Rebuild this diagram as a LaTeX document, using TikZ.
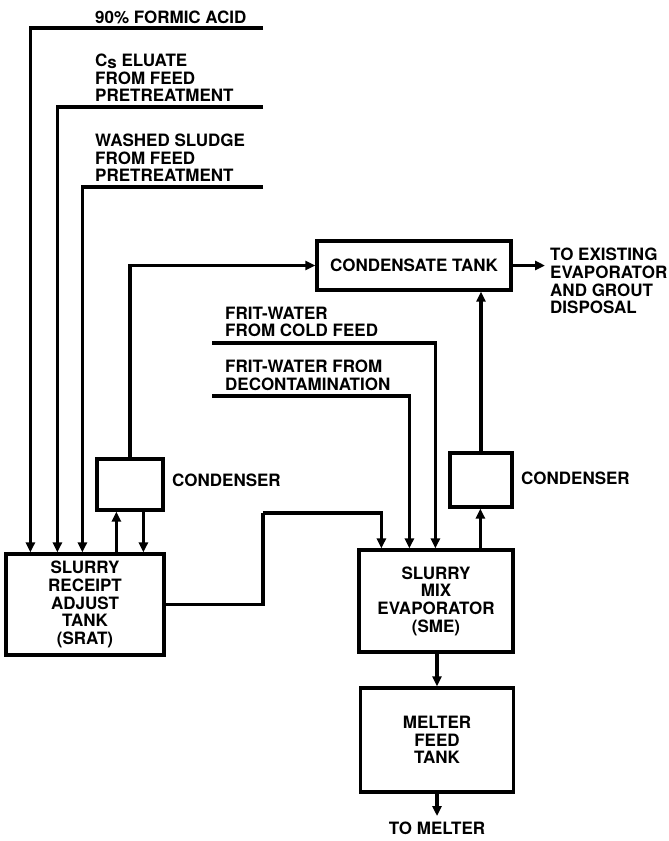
\documentclass[tikz,border=0pt]{standalone}
\usepackage{fontspec}
\usetikzlibrary{arrows.meta,calc}
\newfontfamily\herosfam{TeX Gyre Heros}
\newcommand\diagfont{\herosfam\bfseries\fontsize{17}{17.6}\selectfont}
\tikzset{
  box/.style={draw, line width=3.2pt, inner sep=0pt, align=center, font=\diagfont},
  lbl/.style={inner sep=0pt, align=left, font=\diagfont, anchor=west},
  flow/.style={line width=3.2pt, -{Triangle[length=10pt,width=9pt]}},
  pipe/.style={line width=3.2pt},
}
\begin{document}
\begin{tikzpicture}[x=1pt,y=-1pt]
\fill[white] (0,0) rectangle (669,841);
\useasboundingbox (0,0) rectangle (669,841);

% boxes
\node[box, minimum width=158pt, minimum height=101pt] (srat) at (85,604.5) {SLURRY\\RECEIPT\\ADJUST\\TANK\\(SRAT)};
\node[box, minimum width=154pt, minimum height=102pt] (sme) at (436,601) {SLURRY\\MIX\\EVAPORATOR\\(SME)};
\node[box, minimum width=153pt, minimum height=104pt] (mft) at (437,740) {MELTER\\FEED\\TANK};
\node[box, minimum width=194pt, minimum height=49pt] (ct) at (414,265.5) {CONDENSATE TANK};
\node[box, minimum width=66pt, minimum height=51pt] (condL) at (130,484.5) {};
\node[box, minimum width=62pt, minimum height=54pt] (condR) at (481,480) {};

% labels
\node[lbl] (lformic) at (95,17) {90\% FORMIC ACID};
\node[lbl] (lcs) at (95,78) {C\raisebox{-2pt}{s} ELUATE\\FROM FEED\\PRETREATMENT};
\node[lbl] (lws) at (95,158) {WASHED SLUDGE\\FROM FEED\\PRETREATMENT};
\node[lbl] (lfc) at (225,322) {FRIT-WATER\\FROM COLD FEED};
\node[lbl] (lfd) at (225,375) {FRIT-WATER FROM\\DECONTAMINATION};
\node[lbl] (lcondL) at (172,480) {CONDENSER};
\node[lbl] (lcondR) at (521,478) {CONDENSER};
\node[lbl] (lout) at (550,281) {TO EXISTING\\EVAPORATOR\\AND GROUT\\DISPOSAL};
\node[inner sep=0pt, font=\diagfont] (lmelter) at (437,828) {TO MELTER};

% free ends
\coordinate (fa) at (263,28);
\coordinate (fcs) at (263,107);
\coordinate (fws) at (263,187);
\coordinate (ffc) at (212,343);
\coordinate (ffd) at (212,396);
\coordinate (bend) at (263,513);
\coordinate (outend) at (545,265.5);
\coordinate (melterend) at (437,816);

% feeds to SRAT
\draw[flow] (fa) -| ([xshift=26pt]srat.north west);
\draw[flow] (fcs) -| ([xshift=53pt]srat.north west);
\draw[flow] (fws) -| ([xshift=78pt]srat.north west);

% SRAT <-> condenser
\draw[flow] ([xshift=112pt]srat.north west) -- ([xshift=21pt]condL.south west);
\draw[flow] ([xshift=48pt]condL.south west) -- ([xshift=139pt]srat.north west);
\draw[flow] (condL.north) |- (ct.west);

% SRAT to SME
\draw[pipe] (srat.east) -| (bend);
\draw[flow] (bend) -| ([xshift=24pt]sme.north west);

% frit feeds
\draw[flow] (ffc) -| ([xshift=78pt]sme.north west);
\draw[flow] (ffd) -| ([xshift=52pt]sme.north west);

% SME to condenser to condensate tank
\draw[flow] ([xshift=123pt]sme.north west) -- ([xshift=32pt]condR.south west);
\draw[flow] (condR.north) -- (condR.north |- ct.south);

% condensate tank out
\draw[flow] (ct.east) -- (outend);

% SME to MFT to melter
\draw[flow] (sme.south -| mft.north) -- (mft.north);
\draw[flow] (mft.south) -- (melterend);
\end{tikzpicture}
\end{document}
